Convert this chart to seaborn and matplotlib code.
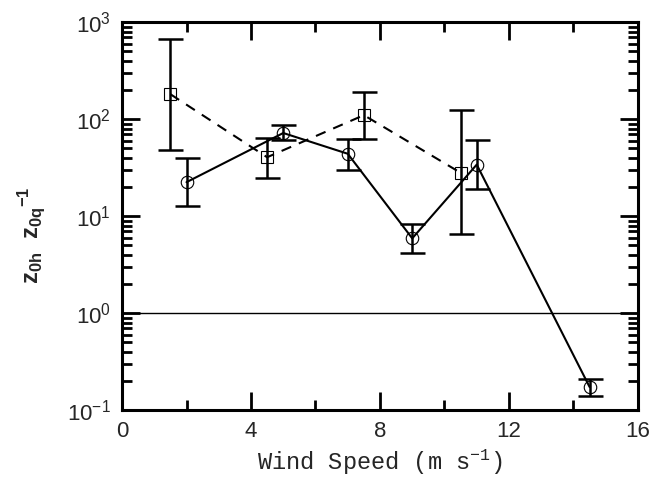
import numpy as np
import pandas as pd
import seaborn as sns
import matplotlib.pyplot as plt
from matplotlib.ticker import LogLocator, FixedLocator

# circle series (solid line)
wind_c = [2, 5, 7, 9, 11, 14.5]
ratio_c = [22.4, 72, 44, 5.9, 34, 0.173]
hi_c = [40, 87, 62, 8.3, 61, 0.21]
lo_c = [12.6, 61, 30, 4.2, 19, 0.14]

# square series (dashed line)
wind_s = [1.5, 4.5, 7.5, 10.5]
ratio_s = [181, 40.5, 110, 28]
hi_s = [665, 64, 190, 124]
lo_s = [48, 25, 63, 6.6]

x_ticks = [0, 4, 8, 12, 16]

sns.set_style("ticks")
plt.rcParams['font.family'] = ['Liberation Sans', 'DejaVu Sans']
plt.rcParams['mathtext.default'] = 'regular'

fig = plt.figure(figsize=(6.49, 4.83), dpi=100)
ax = fig.add_axes([0.188, 0.151, 0.795, 0.803])

df_c = pd.DataFrame({'x': wind_c, 'y': ratio_c})
df_s = pd.DataFrame({'x': wind_s, 'y': ratio_s})

sns.lineplot(data=df_c, x='x', y='y', ax=ax, color='black', lw=1.5, marker='o',
             markersize=9, markerfacecolor='none', markeredgecolor='black', markeredgewidth=0.8)
sns.lineplot(data=df_s, x='x', y='y', ax=ax, color='black', lw=1.5, marker='s',
             markersize=9, markerfacecolor='none', markeredgecolor='black', markeredgewidth=0.8)
ax.lines[-1].set_linestyle((0, (5, 4)))

for xs, ys, hs, ls in [(wind_c, ratio_c, hi_c, lo_c), (wind_s, ratio_s, hi_s, lo_s)]:
    ys = np.array(ys)
    err = [ys - np.array(ls), np.array(hs) - ys]
    ax.errorbar(xs, ys, yerr=err, fmt='none', ecolor='black', elinewidth=1.8,
                capsize=9, capthick=1.8)

ax.axhline(1, color='black', lw=1.0)

ax.set_yscale('log')
ax.set_xlim(0, 16)
ax.set_ylim(0.1, 1000)
ax.set_xticks(x_ticks)
ax.set_xticklabels([str(t) for t in x_ticks])
ax.xaxis.set_minor_locator(FixedLocator([2, 6, 10, 14]))
ax.yaxis.set_major_locator(LogLocator(base=10, numticks=10))
ax.yaxis.set_minor_locator(LogLocator(base=10, subs=np.arange(2, 10), numticks=10))

ax.tick_params(which='both', direction='in', top=True, right=True, width=2, labelsize=16, color='black')
ax.tick_params(which='major', length=13, pad=8)
ax.tick_params(which='minor', length=7)
for sp in ax.spines.values():
    sp.set_linewidth(2.2)
    sp.set_color('black')

ax.set_xlabel('Wind Speed (m s$^{-1}$)', fontsize=17, family='Liberation Mono', labelpad=4)
ax.set_ylabel(r'z$_{0h}$  z$_{0q}$$^{-1}$', fontsize=17, fontweight='bold')
ax.yaxis.set_label_coords(-0.146, 0.45)

fig.savefig('out.png', dpi=100)
